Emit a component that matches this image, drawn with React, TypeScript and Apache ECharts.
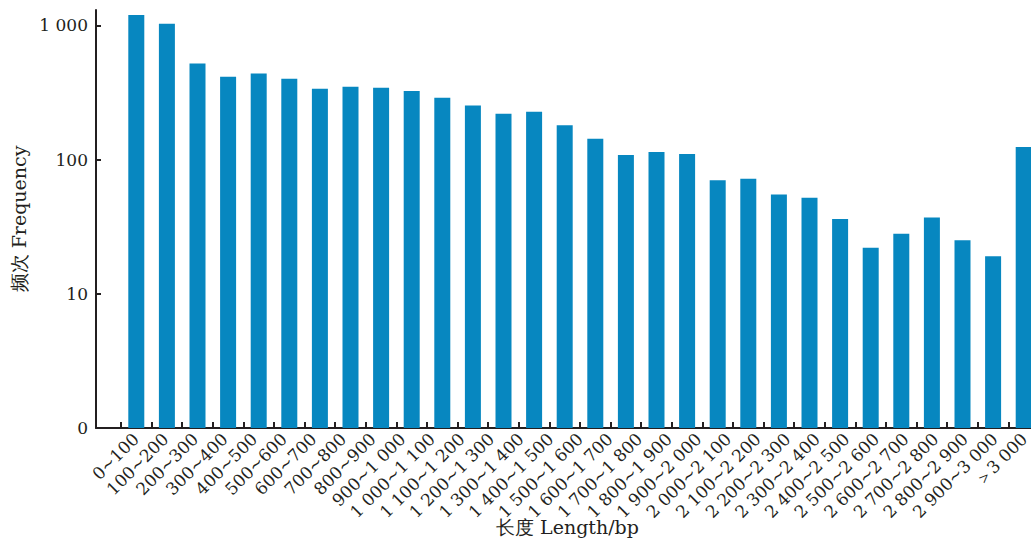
import { useEffect, useRef } from "react";
import * as echarts from "echarts";

// Length bins printed under the axis (31 labels)
const binLabels = [
  "0~100", "100~200", "200~300", "300~400", "400~500", "500~600", "600~700",
  "700~800", "800~900", "900~1 000", "1 000~1 100", "1 100~1 200", "1 200~1 300",
  "1 300~1 400", "1 400~1 500", "1 500~1 600", "1 600~1 700", "1 700~1 800",
  "1 800~1 900", "1 900~2 000", "2 000~2 100", "2 100~2 200", "2 200~2 300",
  "2 300~2 400", "2 400~2 500", "2 500~2 600", "2 600~2 700", "2 700~2 800",
  "2 800~2 900", "2 900~3 000", "＞3 000",
];

// Frequency of each bar (30 bars)
const frequency = [
  1195, 1025, 520, 414, 438, 400, 337, 349, 343, 324, 289, 253, 219, 227, 180,
  143, 108, 114, 110, 70, 72, 55, 52, 36, 22, 28, 37, 25, 19, 124,
];

// Bar slots along the axis
const barSlots = frequency.map((_, i) => String(i + 1));

// Log-axis ticks and their printed labels
const yTicks = [1, 10, 100, 1000];
const yTickLabels = ["0", "10", "100", "1 000"];

const INK = "#231f20";
const FONT = "DejaVu Serif";

export default function App() {
  const ref = useRef<HTMLDivElement>(null);

  useEffect(() => {
    if (!ref.current) return;
    const chart = echarts.init(ref.current, undefined, { renderer: "svg" });

    const yFormatter = (v: number) => {
      const idx = yTicks.findIndex((t) => Math.abs(t - v) < 1e-6 * t);
      return idx >= 0 ? yTickLabels[idx] : "";
    };

    chart.setOption({
      animation: false,
      backgroundColor: "#ffffff",
      textStyle: { fontFamily: FONT, color: INK },
      grid: [
        { left: 96, top: 10, width: 943, height: 418 },
        { left: 121, top: 10, width: 918, height: 418 },
        { left: 121, top: 10, width: 918, height: 418 },
      ],
      xAxis: [
        {
          gridIndex: 0,
          type: "value",
          min: 0,
          max: 1,
          axisLine: { show: true, lineStyle: { color: INK, width: 2 } },
          axisTick: { show: false },
          axisLabel: { show: false },
          splitLine: { show: false },
          name: "长度 Length/bp",
          nameLocation: "middle",
          nameGap: 89,
          nameTextStyle: { fontSize: 19, color: INK, fontFamily: FONT },
        },
        {
          gridIndex: 1,
          type: "category",
          data: barSlots,
          boundaryGap: true,
          axisLine: { show: false },
          axisTick: {
            show: true,
            inside: true,
            length: 6,
            lineStyle: { color: INK, width: 2 },
          },
          axisLabel: { show: false },
        },
        {
          gridIndex: 2,
          type: "category",
          data: binLabels,
          boundaryGap: true,
          axisLine: { show: false },
          axisTick: { show: false },
          axisLabel: {
            interval: 0,
            rotate: 45,
            fontSize: 17,
            color: INK,
            fontFamily: FONT,
            margin: 8,
          },
        },
      ],
      yAxis: [
        {
          gridIndex: 0,
          type: "log",
          logBase: 10,
          min: 1,
          max: 1300,
          axisLine: { show: true, lineStyle: { color: INK, width: 2 } },
          axisTick: {
            show: true,
            inside: true,
            length: 5,
            customValues: yTicks,
            lineStyle: { color: INK, width: 2 },
          },
          axisLabel: {
            customValues: yTicks,
            formatter: yFormatter,
            fontSize: 17,
            color: INK,
            fontFamily: FONT,
            margin: 8,
          },
          splitLine: { show: false },
          name: "频次 Frequency",
          nameLocation: "middle",
          nameGap: 65,
          nameTextStyle: { fontSize: 19, color: INK, fontFamily: FONT },
        },
        { gridIndex: 1, type: "log", logBase: 10, min: 1, max: 1300, show: false },
        { gridIndex: 2, type: "value", show: false },
      ],
      series: [
        {
          type: "bar",
          xAxisIndex: 1,
          yAxisIndex: 1,
          data: frequency,
          barWidth: 16,
          itemStyle: { color: "#0787c0" },
        },
      ],
    });

    return () => chart.dispose();
  }, []);

  return (
    <div
      style={{
        position: "fixed",
        left: 0,
        top: 0,
        width: 1031,
        height: 547,
        overflow: "hidden",
        background: "#ffffff",
      }}
    >
      <div ref={ref} style={{ width: 1060, height: 547 }} />
    </div>
  );
}
